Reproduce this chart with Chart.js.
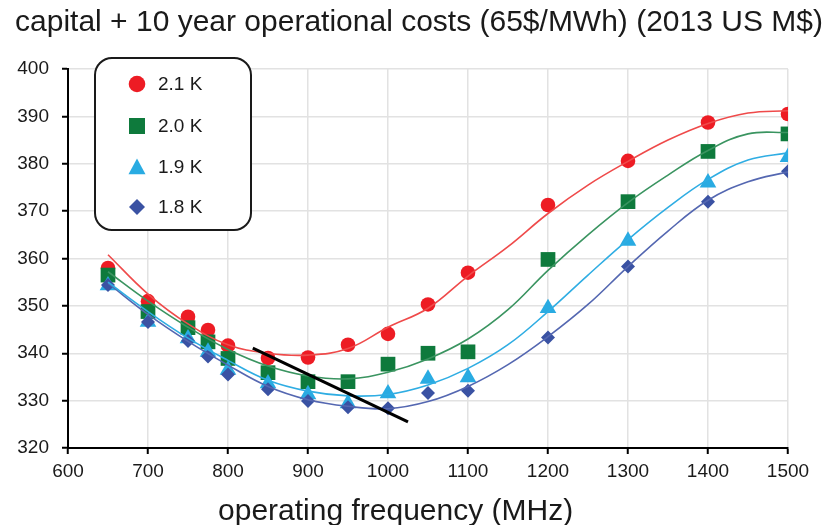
<!DOCTYPE html>
<html>
<head>
<meta charset="utf-8">
<title>capital + 10 year operational costs</title>
<script src="https://cdn.jsdelivr.net/npm/chart.js@4.4.0/dist/chart.umd.min.js"></script>
<style>
  html, body { margin: 0; padding: 0; background: #ffffff; }
  #costChart { display: block; }
</style>
</head>
<body>
<canvas id="costChart" width="829" height="525"></canvas>
<script>
// Operating points (MHz) that were costed
const freqs = [650, 700, 750, 775, 800, 850, 900, 950, 1000, 1050, 1100, 1200, 1300, 1400, 1500];

// Capital + 10 year operational cost (2013 US M$) per operating temperature
const cost21K = [358.0, 351.0, 347.7, 344.9, 341.6, 339.0, 339.1, 341.8, 344.1, 350.3, 357.0, 371.3, 380.6, 388.7, 390.5];
const cost20K = [356.5, 348.8, 345.4, 342.4, 338.9, 335.9, 334.0, 334.0, 337.7, 340.0, 340.3, 359.8, 372.0, 382.6, 386.3];
const cost19K = [354.3, 346.6, 343.1, 340.3, 336.5, 333.6, 331.3, 329.4, 331.5, 334.6, 334.9, 349.5, 363.7, 376.0, 381.4];
const cost18K = [354.4, 346.6, 342.6, 339.3, 335.5, 332.4, 329.9, 328.6, 328.4, 331.6, 332.1, 343.3, 358.3, 372.0, 378.4];

// Trend curves, sampled every 50 MHz
const fitFreqs = [650, 700, 750, 800, 850, 900, 950, 1000, 1050, 1100, 1150, 1200, 1250, 1300, 1350, 1400, 1450, 1500];
const fit21K = [360.8, 352.5, 346.2, 341.8, 340.0, 339.6, 341.0, 345.5, 349.5, 356.3, 362.5, 369.5, 375.5, 380.5, 385.0, 388.5, 390.7, 391.2];
const fit20K = [357.2, 351.0, 345.5, 340.8, 337.3, 335.2, 334.6, 336.0, 338.8, 343.0, 349.2, 357.5, 365.0, 371.8, 377.6, 382.8, 386.3, 386.6];
const fit19K = [355.0, 348.8, 343.2, 338.5, 334.3, 332.0, 331.0, 331.3, 333.3, 336.8, 341.8, 348.8, 356.5, 364.0, 370.8, 376.7, 380.8, 382.3];
const fit18K = [354.8, 348.2, 342.5, 337.5, 333.0, 330.2, 328.8, 328.3, 329.8, 333.0, 337.6, 343.5, 350.3, 358.3, 365.8, 372.3, 376.2, 378.3];

// Line through the cost minima
const minimaFreqs = [831, 1025];
const minimaCost = [341.1, 325.5];

// Axis ticks
const xTickValues = [600, 700, 800, 900, 1000, 1100, 1200, 1300, 1400, 1500];
const yTickValues = [320, 330, 340, 350, 360, 370, 380, 390, 400];

const seriesNames = ['2.1 K', '2.0 K', '1.9 K', '1.8 K'];

const FONT = "'Liberation Sans', Arial, sans-serif";
const TEXT_COLOR = '#1a1a1a';

const styles = [
    { marker: '#ED1C24', line: '#EF4A4A', shape: 'circle', radius: 7.3 },
    { marker: '#0E7A3C', line: '#3A9460', shape: 'rect', radius: 10.4 },
    { marker: '#29ABE2', line: '#2FADE3', shape: 'triangle', radius: 9.6 },
    { marker: '#3A52A3', line: '#5467B1', shape: 'rectRot', radius: 7 }
];

const toPoints = (xs, ys) => xs.map((x, i) => ({ x: x, y: ys[i] }));

const markerSets = [cost21K, cost20K, cost19K, cost18K];
const fitSets = [fit21K, fit20K, fit19K, fit18K];

const datasets = [];

// black line over the minima, drawn on top of everything
datasets.push({
    label: 'minima',
    data: toPoints(minimaFreqs, minimaCost),
    showLine: true,
    borderColor: '#000000',
    borderWidth: 3,
    pointRadius: 0,
    order: 0
});

// smooth trend curves
fitSets.forEach((vals, i) => {
    datasets.push({
        label: seriesNames[i] + ' fit',
        data: toPoints(fitFreqs, vals),
        showLine: true,
        borderColor: styles[i].line,
        borderWidth: 1.6,
        tension: 0.4,
        pointRadius: 0,
        order: 1 + i
    });
});

// markers, 2.1 K at the back and 1.8 K in front
markerSets.forEach((vals, i) => {
    datasets.push({
        label: seriesNames[i],
        data: toPoints(freqs, vals),
        showLine: false,
        pointStyle: styles[i].shape,
        pointRadius: styles[i].radius,
        pointBackgroundColor: styles[i].marker,
        pointBorderColor: styles[i].marker,
        pointBorderWidth: 0,
        order: 8 - i
    });
});

/**
 * Draw one legend marker shape
 */
function drawMarker(ctx, shape, color, x, y, r) {
    ctx.save();
    ctx.fillStyle = color;
    ctx.beginPath();
    if (shape === 'circle') {
        ctx.arc(x, y, r, 0, Math.PI * 2);
    } else if (shape === 'rect') {
        ctx.rect(x - r, y - r, 2 * r, 2 * r);
    } else if (shape === 'triangle') {
        ctx.moveTo(x, y - r);
        ctx.lineTo(x + r, y + r * 0.85);
        ctx.lineTo(x - r, y + r * 0.85);
        ctx.closePath();
    } else {
        ctx.moveTo(x, y - r);
        ctx.lineTo(x + r, y);
        ctx.lineTo(x, y + r);
        ctx.lineTo(x - r, y);
        ctx.closePath();
    }
    ctx.fill();
    ctx.restore();
}

// Title, x axis title and the boxed legend
const decorations = {
    id: 'decorations',
    afterDraw(chart) {
        const ctx = chart.ctx;
        const area = chart.chartArea;
        ctx.save();

        ctx.fillStyle = TEXT_COLOR;
        ctx.textBaseline = 'alphabetic';
        ctx.textAlign = 'center';
        ctx.font = '30px ' + FONT;
        ctx.fillText('capital + 10 year operational costs (65$/MWh) (2013 US M$)', 419, 31);

        ctx.font = '30px ' + FONT;
        ctx.fillText('operating frequency (MHz)', area.left + area.width * 0.455, 520);

        // legend box
        const bx = 95, by = 58, bw = 156, bh = 172, br = 17;
        ctx.beginPath();
        ctx.moveTo(bx + br, by);
        ctx.arcTo(bx + bw, by, bx + bw, by + bh, br);
        ctx.arcTo(bx + bw, by + bh, bx, by + bh, br);
        ctx.arcTo(bx, by + bh, bx, by, br);
        ctx.arcTo(bx, by, bx + bw, by, br);
        ctx.closePath();
        ctx.fillStyle = '#ffffff';
        ctx.fill();
        ctx.lineWidth = 2;
        ctx.strokeStyle = '#1a1a1a';
        ctx.stroke();

        const rowY = [84, 126, 167, 207];
        const legendR = [8.3, 8, 8.5, 8];
        ctx.font = '19px ' + FONT;
        ctx.textAlign = 'left';
        ctx.textBaseline = 'middle';
        seriesNames.forEach((name, i) => {
            drawMarker(ctx, styles[i].shape, styles[i].marker, 137, rowY[i], legendR[i]);
            ctx.fillStyle = TEXT_COLOR;
            ctx.fillText(name, 158, rowY[i] + 1);
        });

        ctx.restore();
    }
};

new Chart(document.getElementById('costChart'), {
    type: 'scatter',
    data: { datasets: datasets },
    plugins: [decorations],
    options: {
        responsive: false,
        animation: false,
        devicePixelRatio: 1,
        layout: {
            padding: { top: 69, right: 41, left: 0, bottom: 0 }
        },
        plugins: {
            legend: { display: false },
            title: { display: false },
            tooltip: { enabled: false }
        },
        scales: {
            x: {
                type: 'linear',
                min: 600,
                max: 1500,
                afterBuildTicks: axis => {
                    axis.ticks = xTickValues.map(v => ({ value: v }));
                },
                afterFit: axis => { axis.height = 77; },
                border: { color: '#000000', width: 2 },
                grid: {
                    color: '#e2e2e2',
                    lineWidth: 1.5,
                    tickColor: '#000000',
                    tickWidth: 2,
                    tickLength: 6
                },
                ticks: {
                    color: TEXT_COLOR,
                    padding: 6,
                    maxRotation: 0,
                    font: { family: FONT, size: 19 },
                    callback: v => String(v)
                }
            },
            y: {
                type: 'linear',
                min: 320,
                max: 400,
                afterBuildTicks: axis => {
                    axis.ticks = yTickValues.map(v => ({ value: v }));
                },
                afterFit: axis => { axis.width = 68; },
                border: { color: '#000000', width: 2 },
                grid: {
                    color: '#e2e2e2',
                    lineWidth: 1.5,
                    tickColor: '#000000',
                    tickWidth: 2,
                    tickLength: 6
                },
                ticks: {
                    color: TEXT_COLOR,
                    padding: 13,
                    font: { family: FONT, size: 19 },
                    callback: v => String(v)
                }
            }
        }
    }
});
</script>
</body>
</html>
